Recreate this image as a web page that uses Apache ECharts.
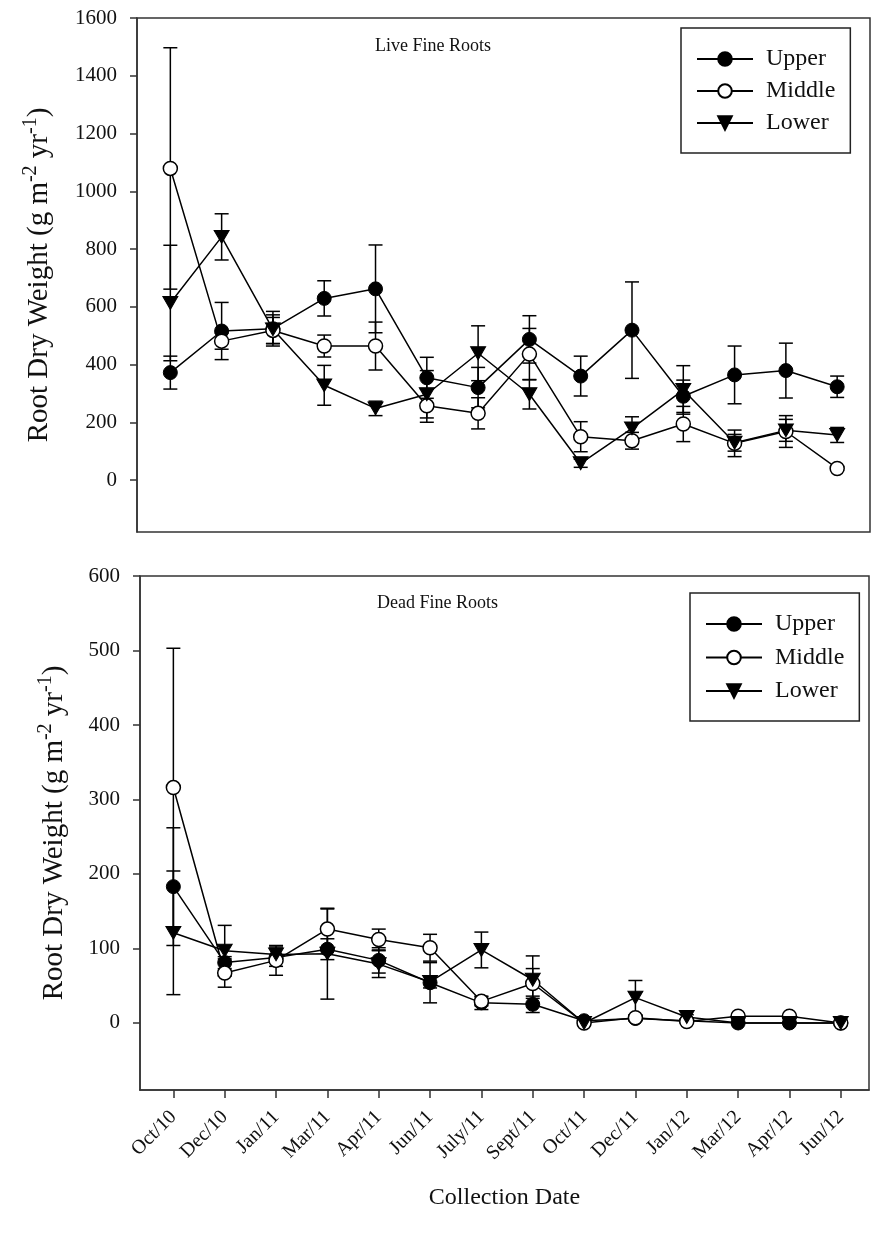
<!DOCTYPE html>
<html>
<head>
<meta charset="utf-8">
<script src="https://cdn.jsdelivr.net/npm/echarts@6/dist/echarts.min.js"></script>
<style>
html,body{margin:0;padding:0;background:#fff}
#main{width:874px;height:1241px}
</style>
</head>
<body>
<div id="main"></div>
<script>
// collection dates (x categories)
var dates = ['Oct/10','Dec/10','Jan/11','Mar/11','Apr/11','Jun/11','July/11','Sept/11','Oct/11','Dec/11','Jan/12','Mar/12','Apr/12','Jun/12'];

// live fine roots, mean and error
var liveUpper = [372, 516, 524, 629, 662, 354, 320, 487, 360, 519, 290, 364, 379, 323];
var liveUpperErr = [57, 99, 60, 61, 152, 71, 70, 82, 69, 167, 56, 100, 95, 37];
var liveMiddle = [1079, 481, 518, 464, 464, 257, 231, 436, 150, 136, 194, 127, 168, 40];
var liveMiddleErr = [418, 28, 45, 38, 83, 57, 54, 89, 52, 29, 61, 46, 55, 6];
var liveLower = [613, 842, 522, 328, 248, 297, 439, 297, 58, 179, 312, 129, 172, 156];
var liveLowerErr = [200, 80, 50, 69, 25, 82, 95, 51, 14, 40, 84, 29, 38, 26];

// dead fine roots, mean and error
var deadUpper = [183, 81, 88, 99, 84, 54, 27, 25, 3, 6, 3, 0, 0, 0];
var deadUpperErr = [79, 8, 12, 14, 17, 27, 9, 11, 2, 3, 2, 1, 1, 1];
var deadMiddle = [316, 67, 84, 126, 112, 101, 29, 53, 0, 7, 2, 9, 9, 0];
var deadMiddleErr = [187, 19, 20, 27, 14, 18, 6, 20, 1, 3, 2, 2, 2, 1];
var deadLower = [121, 97, 92, 93, 79, 55, 98, 58, 0, 34, 8, 0, 0, 0];
var deadLowerErr = [83, 34, 10, 61, 18, 8, 24, 32, 1, 23, 3, 1, 1, 1];

// tick labels
var liveTicks = [0, 200, 400, 600, 800, 1000, 1200, 1400, 1600];
var deadTicks = [0, 100, 200, 300, 400, 500, 600];
var dateTicks = [0, 1, 2, 3, 4, 5, 6, 7, 8, 9, 10, 11, 12, 13];

var FONT = '"Liberation Serif", "Times New Roman", serif';
var INK = '#111';

var chart = echarts.init(document.getElementById('main'));

//符号样式
var marks = {
    Upper: {symbol: 'circle', size: 14, itemStyle: {color: '#000', borderColor: '#000', borderWidth: 1}},
    Middle: {symbol: 'circle', size: 14, itemStyle: {color: '#fff', borderColor: '#000', borderWidth: 1.5}},
    Lower: {symbol: 'path://M0,0L12,0L6,11Z', size: [15, 14], itemStyle: {color: '#000', borderColor: '#000', borderWidth: 1}}
};

function errRender(params, api) {
    var x = api.value(0), m = api.value(1), e = api.value(2);
    var top = api.coord([x, m + e]);
    var bot = api.coord([x, m - e]);
    var w = 7;
    var st = {stroke: '#000', lineWidth: 1.5};
    return {
        type: 'group',
        children: [
            {type: 'line', shape: {x1: top[0], y1: top[1], x2: bot[0], y2: bot[1]}, style: st},
            {type: 'line', shape: {x1: top[0] - w, y1: top[1], x2: top[0] + w, y2: top[1]}, style: st},
            {type: 'line', shape: {x1: bot[0] - w, y1: bot[1], x2: bot[0] + w, y2: bot[1]}, style: st}
        ]
    };
}

function panelSeries(name, vals, errs, gi) {
    var m = marks[name];
    return [{
        name: name + ' err',
        type: 'custom',
        xAxisIndex: gi,
        yAxisIndex: gi,
        renderItem: errRender,
        z: 2,
        silent: true,
        data: dates.map(function (d, i) { return [i, vals[i], errs[i]]; })
    }, {
        name: name,
        type: 'line',
        xAxisIndex: gi,
        yAxisIndex: gi,
        symbol: m.symbol,
        symbolSize: m.size,
        symbolKeepAspect: true,
        showAllSymbol: true,
        lineStyle: {color: '#000', width: 1.5},
        itemStyle: m.itemStyle,
        z: 3,
        data: dates.map(function (d, i) { return [i, vals[i]]; })
    }];
}

var yName = '{a|Root Dry Weight (g m}{s|-2}{a| yr}{s|-1}{a|)}';
var yRich = {
    a: {fontFamily: FONT, fontSize: 29, color: INK, lineHeight: 36},
    s: {fontFamily: FONT, fontSize: 20, color: INK, lineHeight: 20, verticalAlign: 'top'}
};

function yAxis(gi, min, max, ticks, gap) {
    return {
        gridIndex: gi,
        type: 'value',
        min: min,
        max: max,
        axisLine: {show: true, onZero: false, lineStyle: {color: '#333', width: 1.5}},
        splitLine: {show: false},
        axisTick: {show: true, length: 7, customValues: ticks, lineStyle: {color: '#333', width: 1.5}},
        axisLabel: {
            customValues: ticks, margin: 20, fontFamily: FONT, fontSize: 21, color: INK,
            formatter: function (v) { return String(v); }
        },
        name: yName,
        nameLocation: 'middle',
        nameRotate: 90,
        nameGap: gap,
        nameTextStyle: {rich: yRich}
    };
}

function legend(left, top, gap) {
    return {
        left: left,
        top: top,
        orient: 'vertical',
        data: ['Upper', 'Middle', 'Lower'],
        itemWidth: 56,
        itemHeight: 17,
        itemGap: gap,
        padding: [19, 15, 18, 15],
        borderColor: '#222',
        borderWidth: 1.5,
        selectedMode: false,
        textStyle: {fontFamily: FONT, fontSize: 24, color: INK, lineHeight: 22, padding: [0, 0, 0, 8]}
    };
}

var option = {
    animation: false,
    backgroundColor: '#fff',
    grid: [
        {left: 137, top: 18, width: 733, height: 514, show: true, borderColor: '#333', borderWidth: 1.5},
        {left: 140, top: 576, width: 729, height: 514, show: true, borderColor: '#333', borderWidth: 1.5}
    ],
    xAxis: [{
        gridIndex: 0,
        type: 'value',
        min: -0.65,
        max: 13.64,
        axisLine: {show: false, onZero: false},
        axisTick: {show: false},
        axisLabel: {show: false},
        splitLine: {show: false}
    }, {
        gridIndex: 1,
        type: 'value',
        min: -0.65,
        max: 13.55,
        axisLine: {show: true, onZero: false, lineStyle: {color: '#333', width: 1.5}},
        axisTick: {show: true, length: 8, customValues: dateTicks, lineStyle: {color: '#333', width: 1.5}},
        axisLabel: {
            customValues: dateTicks,
            rotate: 45,
            margin: 24,
            fontFamily: FONT,
            fontSize: 20,
            color: INK,
            formatter: function (v) { return dates[v]; }
        },
        splitLine: {show: false},
        name: 'Collection Date',
        nameLocation: 'middle',
        nameGap: 96,
        nameTextStyle: {fontFamily: FONT, fontSize: 24, color: INK}
    }],
    yAxis: [
        yAxis(0, -180, 1600, liveTicks, 80),
        yAxis(1, -90, 600, deadTicks, 68)
    ],
    legend: [legend(681, 28, 8), legend(690, 593, 9.5)],
    graphic: [
        {type: 'text', left: 375, top: 37, style: {text: 'Live Fine Roots', font: '18px ' + FONT, fill: INK}},
        {type: 'text', left: 377, top: 594, style: {text: 'Dead Fine Roots', font: '18px ' + FONT, fill: INK}}
    ],
    series: [].concat(
        panelSeries('Upper', liveUpper, liveUpperErr, 0),
        panelSeries('Middle', liveMiddle, liveMiddleErr, 0),
        panelSeries('Lower', liveLower, liveLowerErr, 0),
        panelSeries('Upper', deadUpper, deadUpperErr, 1),
        panelSeries('Middle', deadMiddle, deadMiddleErr, 1),
        panelSeries('Lower', deadLower, deadLowerErr, 1)
    )
};
chart.setOption(option);
</script>
</body>
</html>
